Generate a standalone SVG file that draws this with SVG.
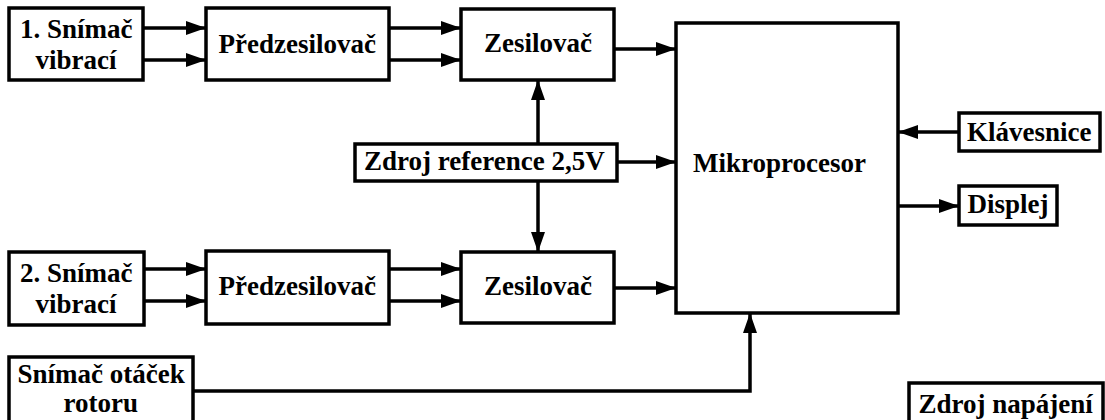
<svg xmlns="http://www.w3.org/2000/svg" width="1105" height="420" viewBox="0 0 1105 420">
<style>
.box{fill:#fff;stroke:#000;stroke-width:3.5}
.c{fill:none;stroke:#000;stroke-width:3.5}
</style>
<defs>
<marker id="ah" markerUnits="userSpaceOnUse" markerWidth="20" markerHeight="14" refX="20" refY="7" orient="auto">
<path d="M0,0 L20,7 L0,14 z" fill="#000"/>
</marker>
</defs>
<rect width="1105" height="420" fill="#fff"/>
<g id="connectors">
<line class="c" x1="143" y1="28" x2="206" y2="28" marker-end="url(#ah)"/>
<line class="c" x1="143" y1="60" x2="206" y2="60" marker-end="url(#ah)"/>
<line class="c" x1="389" y1="28" x2="461" y2="28" marker-end="url(#ah)"/>
<line class="c" x1="389" y1="60" x2="461" y2="60" marker-end="url(#ah)"/>
<line class="c" x1="614" y1="49" x2="676" y2="49" marker-end="url(#ah)"/>
<line class="c" x1="144" y1="269" x2="206" y2="269" marker-end="url(#ah)"/>
<line class="c" x1="144" y1="301" x2="206" y2="301" marker-end="url(#ah)"/>
<line class="c" x1="389" y1="269" x2="461" y2="269" marker-end="url(#ah)"/>
<line class="c" x1="389" y1="301" x2="461" y2="301" marker-end="url(#ah)"/>
<line class="c" x1="614" y1="288" x2="676" y2="288" marker-end="url(#ah)"/>
<line class="c" x1="538" y1="144" x2="538" y2="80" marker-end="url(#ah)"/>
<line class="c" x1="538" y1="181" x2="538" y2="252" marker-end="url(#ah)"/>
<line class="c" x1="617" y1="162" x2="676" y2="162" marker-end="url(#ah)"/>
<line class="c" x1="959" y1="132" x2="898" y2="132" marker-end="url(#ah)"/>
<line class="c" x1="898" y1="206" x2="959" y2="206" marker-end="url(#ah)"/>
<polyline class="c" points="193,391 750,391 750,313" marker-end="url(#ah)"/>
</g>
<g id="snimac1">
<rect class="box" x="9" y="8" width="134" height="72"/>
<text x="20" y="38" font-family="Liberation Serif" font-weight="bold" font-size="27">1. Snímač</text>
<text x="35.5" y="69" font-family="Liberation Serif" font-weight="bold" font-size="27">vibrací</text>
</g>
<g id="predzesilovac1">
<rect class="box" x="206" y="8" width="183" height="72"/>
<text x="218.5" y="53" font-family="Liberation Serif" font-weight="bold" font-size="27">Předzesilovač</text>
</g>
<g id="zesilovac1">
<rect class="box" x="461" y="9" width="153" height="71"/>
<text x="484" y="52" font-family="Liberation Serif" font-weight="bold" font-size="27">Zesilovač</text>
</g>
<g id="reference">
<rect class="box" x="355" y="144" width="262" height="37"/>
<text x="364" y="170" font-family="Liberation Serif" font-weight="bold" font-size="27">Zdroj reference 2,5V</text>
</g>
<g id="snimac2">
<rect class="box" x="9" y="252" width="135" height="73"/>
<text x="20" y="282" font-family="Liberation Serif" font-weight="bold" font-size="27">2. Snímač</text>
<text x="35.5" y="313" font-family="Liberation Serif" font-weight="bold" font-size="27">vibrací</text>
</g>
<g id="predzesilovac2">
<rect class="box" x="206" y="251" width="183" height="73"/>
<text x="218.5" y="295" font-family="Liberation Serif" font-weight="bold" font-size="27">Předzesilovač</text>
</g>
<g id="zesilovac2">
<rect class="box" x="461" y="252" width="153" height="71"/>
<text x="484" y="295" font-family="Liberation Serif" font-weight="bold" font-size="27">Zesilovač</text>
</g>
<g id="mikroprocesor">
<rect class="box" x="676" y="23" width="222" height="290"/>
<text x="693" y="172" font-family="Liberation Serif" font-weight="bold" font-size="27">Mikroprocesor</text>
</g>
<g id="klavesnice">
<rect class="box" x="959" y="113" width="141" height="38"/>
<text x="967" y="141" font-family="Liberation Serif" font-weight="bold" font-size="27">Klávesnice</text>
</g>
<g id="displej">
<rect class="box" x="959" y="186" width="98" height="39"/>
<text x="967.5" y="213" font-family="Liberation Serif" font-weight="bold" font-size="27">Displej</text>
</g>
<g id="snimac-otacek">
<rect class="box" x="9" y="357" width="184" height="70"/>
<text x="17.5" y="383" font-family="Liberation Serif" font-weight="bold" font-size="27">Snímač otáček</text>
<text x="63.5" y="412" font-family="Liberation Serif" font-weight="bold" font-size="27">rotoru</text>
</g>
<g id="zdroj-napajeni">
<rect class="box" x="909" y="383" width="194" height="44"/>
<text x="918.5" y="413" font-family="Liberation Serif" font-weight="bold" font-size="27">Zdroj napájení</text>
</g>
</svg>
